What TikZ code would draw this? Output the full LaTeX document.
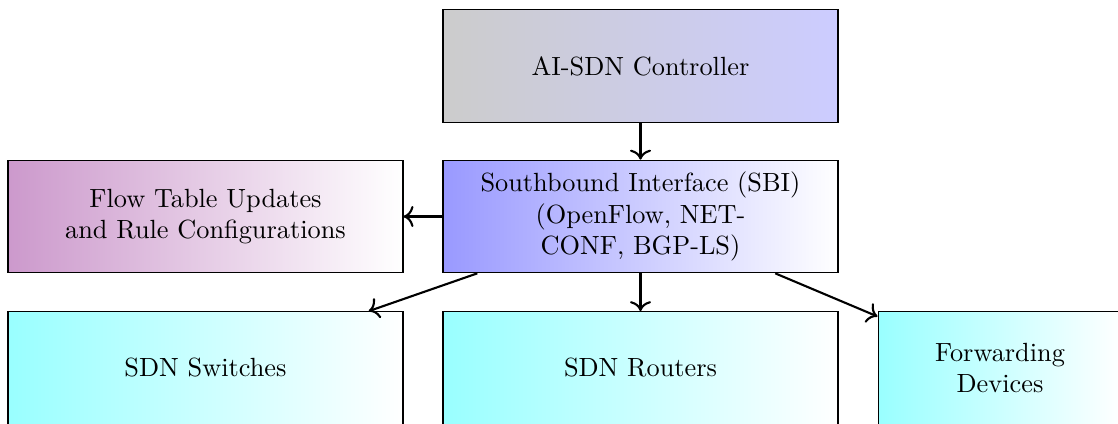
\documentclass[tikz,border=0pt]{standalone}
\usetikzlibrary{arrows.meta}
\begin{document}
\begin{tikzpicture}[x=0.38pt,y=-0.38pt,
  box/.style={draw=black, line width=0.4pt, minimum height=42.8pt, align=center, inner sep=3pt},
  widebox/.style={box, minimum width=150.1pt},
  link/.style={-{Computer Modern Rightarrow[width=8pt,length=3.8pt]}, thick}]
\useasboundingbox (0,0) rectangle (1118,424);

% controller and southbound layer
\node[widebox, left color=black!20, right color=blue!20] (ctrl) at (640.5,66) {AI-SDN Controller};
\node[widebox, left color=blue!40, right color=white] (sbi) at (640.5,216.5)
  {Southbound Interface (SBI)\\(OpenFlow, NET-\\CONF, BGP-LS)};
\node[widebox, left color=violet!40, right color=white] (flow) at (205.5,216.5)
  {Flow Table Updates\\and Rule Configurations};

% data plane devices
\node[widebox, left color=cyan!40, right color=white] (switches) at (205.5,368) {SDN Switches};
\node[widebox, left color=cyan!40, right color=white] (routers) at (640.5,368) {SDN Routers};
\node[box, minimum width=92.7pt, left color=cyan!40, right color=white] (fwd) at (1000,368)
  {Forwarding\\Devices};

% connectors
\draw[link] (ctrl) -- (sbi);
\draw[link] (sbi) -- (flow);
\draw[link] (sbi) -- (switches);
\draw[link] (sbi) -- (routers);
\draw[link] (sbi) -- (fwd);
\end{tikzpicture}
\end{document}
